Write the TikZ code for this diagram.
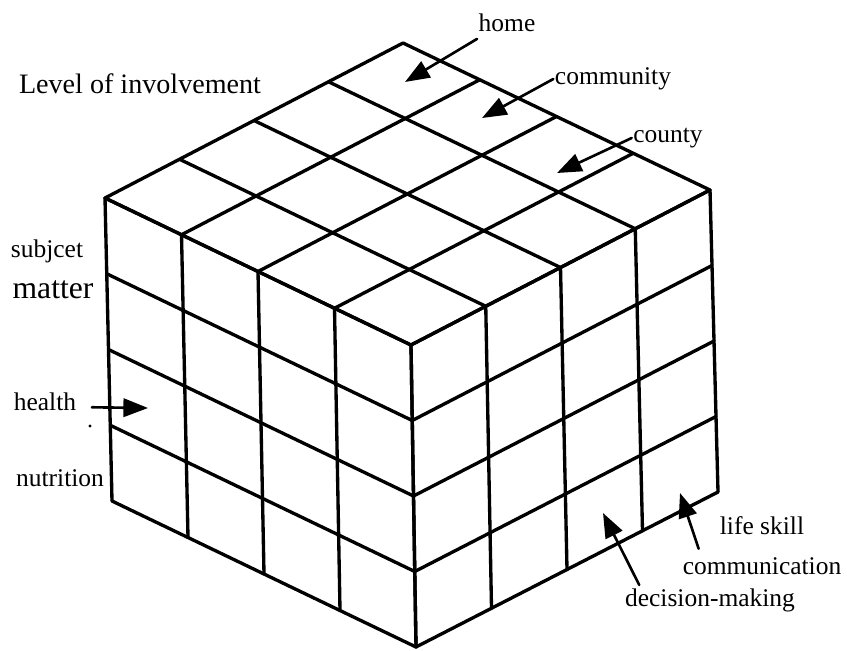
\documentclass[tikz,border=0pt]{standalone}
\usepackage{fontspec}
\setmainfont{Liberation Serif}
\usetikzlibrary{calc, arrows.meta}

\begin{document}
\begin{tikzpicture}[x=0.02cm, y=-0.02cm, line width=1.9pt, line cap=round, line join=round,
    lbl/.style={font=\fontsize{14.5}{16}\selectfont, inner sep=0pt},
    ptr/.style={-{Triangle[length=14pt, width=10.5pt]}, line width=1.5pt}]
    \useasboundingbox (0,0) rectangle (847,650);

    % Cube corners
    \coordinate (B) at (403,43);
    \coordinate (L) at (105,198);
    \coordinate (R) at (710,190);
    \coordinate (F) at (411,345);
    \coordinate (Lb) at (112,501);
    \coordinate (Rb) at (718,492);
    \coordinate (Fb) at (416,647);

    % Top face
    \foreach \i in {0,...,4} {
        \draw ($(B)!\i/4!(L)$) -- ($(R)!\i/4!(F)$);
        \draw ($(B)!\i/4!(R)$) -- ($(L)!\i/4!(F)$);
    }
    % Left face
    \foreach \i in {0,...,4} {
        \draw ($(L)!\i/4!(F)$) -- ($(Lb)!\i/4!(Fb)$);
        \draw ($(L)!\i/4!(Lb)$) -- ($(F)!\i/4!(Fb)$);
    }
    % Right face
    \foreach \i in {0,...,4} {
        \draw ($(F)!\i/4!(R)$) -- ($(Fb)!\i/4!(Rb)$);
        \draw ($(F)!\i/4!(Fb)$) -- ($(R)!\i/4!(Rb)$);
    }

    % Labels
    \node (level) [lbl, font=\fontsize{16}{18}\selectfont] at (140,84) {Level of involvement};
    \node (home) [lbl] at (507,23) {home};
    \node (comty) [lbl] at (613,79) {community};
    \node (cnty) [lbl] at (668,138) {county};
    \node (subj) [lbl] at (47,251) {subjcet};
    \node (matter) [lbl, font=\fontsize{18}{20}\selectfont] at (53,290) {matter};
    \node (health) [lbl] at (45,402) {health};
    \node (nutr) [lbl] at (60,478) {nutrition};
    \node (life) [lbl] at (762,526) {life skill};
    \node (comm) [lbl] at (762,566) {communication};
    \node (dec) [lbl] at (710,600) {decision-making};

    % Arrow tips
    \coordinate (hometip) at (405,82);
    \coordinate (comtytip) at (482,118);
    \coordinate (cntytip) at (557,173);
    \coordinate (healthtip) at (148,408);
    \coordinate (dectip) at (603,513);
    \coordinate (commtip) at (680,493);

    % Arrows
    \draw[ptr] ([yshift=-3pt]home.south west) -- (hometip);
    \draw[ptr] (comty.west) -- (comtytip);
    \draw[ptr] (cnty.west) -- (cntytip);
    \draw[ptr] ([xshift=8pt, yshift=-3pt]health.east) -- (healthtip);
    \draw[ptr] ([xshift=9pt, yshift=1pt]dec.north west) -- (dectip);
    \draw[ptr] ([xshift=10pt, yshift=4pt]comm.north west) -- (commtip);

    \fill (90,426) circle (0.9pt);
\end{tikzpicture}
\end{document}
